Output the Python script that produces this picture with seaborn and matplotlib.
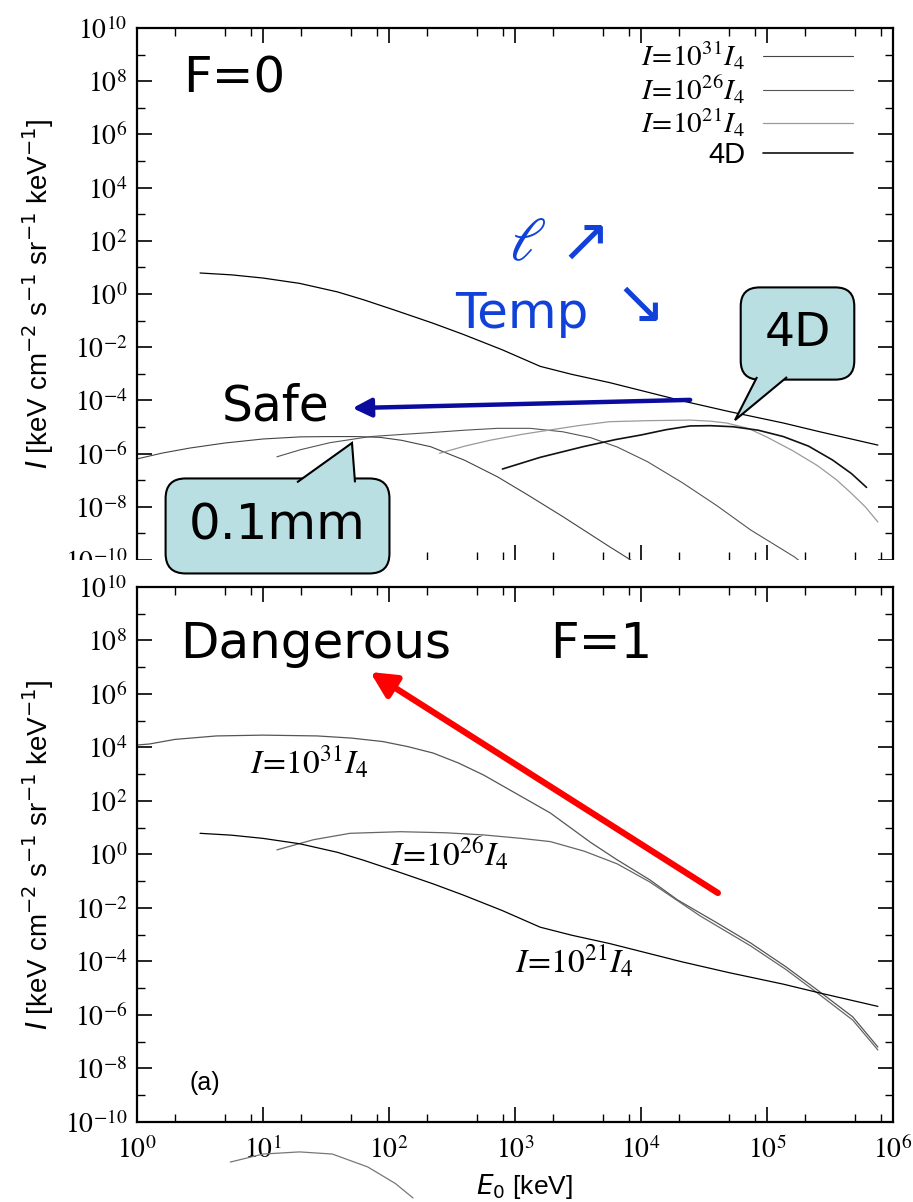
import numpy as np
import matplotlib
matplotlib.use("Agg")
import matplotlib.pyplot as plt
import seaborn as sns
from matplotlib.patches import Rectangle, Polygon
from matplotlib.ticker import FixedLocator, FuncFormatter, NullFormatter

# all values as log10(E0 / keV) and log10(I)
# curve that shows up in both panels (I = 10^21 I4 in panel F=1)
e_21 = [0.50, 0.75, 1.00, 1.29, 1.59, 1.80, 2.06, 2.35, 2.59, 2.90, 3.20, 3.45, 3.75, 4.33, 4.70, 5.13, 5.42, 5.88]
i_21 = [0.79, 0.72, 0.60, 0.40, 0.08, -0.22, -0.63, -1.10, -1.52, -2.10, -2.72, -3.02, -3.33, -4.02, -4.42, -4.85, -5.18, -5.68]

# F = 0 panel
f0_e31 = [0.00, 0.20, 0.42, 0.70, 1.00, 1.30, 1.53, 1.75, 1.93, 2.10, 2.33, 2.60, 2.86, 3.10, 3.38, 3.75, 4.07]
f0_i31 = [-6.20, -5.98, -5.79, -5.60, -5.45, -5.37, -5.36, -5.36, -5.39, -5.50, -5.74, -6.25, -6.87, -7.55, -8.37, -9.50, -10.45]
f0_e26 = [1.11, 1.30, 1.53, 1.85, 2.10, 2.33, 2.60, 2.86, 3.12, 3.38, 3.60, 3.81, 4.05, 4.33, 4.60, 4.87, 5.22, 5.30]
f0_i26 = [-6.12, -5.85, -5.59, -5.36, -5.28, -5.21, -5.12, -5.05, -5.05, -5.18, -5.40, -5.75, -6.30, -7.10, -7.95, -8.87, -9.89, -10.20]
f0_e21 = [2.40, 2.60, 2.80, 3.05, 3.28, 3.50, 3.75, 4.07, 4.39, 4.55, 4.68, 4.85, 5.00, 5.20, 5.40, 5.55, 5.66, 5.78, 5.88]
f0_i21 = [-5.99, -5.72, -5.50, -5.28, -5.11, -4.95, -4.80, -4.76, -4.74, -4.78, -4.85, -5.05, -5.38, -5.88, -6.45, -6.98, -7.45, -8.00, -8.57]
f0_e4d = [2.90, 3.20, 3.54, 3.80, 4.00, 4.20, 4.39, 4.55, 4.73, 4.93, 5.13, 5.33, 5.52, 5.67, 5.79]
f0_i4d = [-6.58, -6.14, -5.74, -5.47, -5.30, -5.10, -4.96, -4.95, -4.99, -5.12, -5.36, -5.72, -6.24, -6.75, -7.27]

# F = 1 panel
f1_e31 = [0.00, 0.10, 0.30, 0.63, 1.00, 1.43, 1.70, 1.95, 2.15, 2.35, 2.55, 2.75, 3.00, 3.28, 3.60, 3.81,
          4.07, 4.29, 4.60, 4.87, 5.15, 5.40, 5.68, 5.88]
f1_i31 = [4.09, 4.13, 4.30, 4.43, 4.46, 4.43, 4.35, 4.22, 4.03, 3.79, 3.42, 2.97, 2.30, 1.55, 0.45, -0.20,
          -0.95, -1.70, -2.55, -3.31, -4.20, -5.07, -6.07, -7.20]
f1_e26 = [1.11, 1.40, 1.69, 2.09, 2.45, 2.75, 3.05, 3.28, 3.55, 3.81, 4.07, 4.47, 4.87, 5.15, 5.40, 5.68, 5.88]
f1_i26 = [0.17, 0.55, 0.79, 0.85, 0.81, 0.73, 0.60, 0.48, 0.12, -0.35, -1.03, -2.30, -3.42, -4.30, -5.18, -6.19, -7.31]
# stray piece of a curve drawn below the lower frame
f1_e_low = [0.74, 1.00, 1.29, 1.55, 1.83, 2.05, 2.19]
f1_i_low = [-11.50, -11.20, -11.12, -11.20, -11.68, -12.30, -12.84]

legend_labels = [r"$I\!=\!10^{31}I_4$", r"$I\!=\!10^{26}I_4$", r"$I\!=\!10^{21}I_4$", "4D"]

sns.set_theme(style="ticks")
plt.rcParams["font.family"] = ["DejaVu Sans"]
plt.rcParams["mathtext.fontset"] = "stix"
for key in ["text.color", "axes.labelcolor", "xtick.color", "ytick.color", "axes.edgecolor"]:
    plt.rcParams[key] = "black"

bubble = "#b9dfe2"
blue_txt = "#1141d8"


def p(v):
    return 10.0 ** np.asarray(v)


def style_axis(ax, show_x):
    ax.set_xscale("log")
    ax.set_yscale("log")
    ax.set_xlim(1, 1e6)
    ax.set_ylim(1e-10, 1e10)
    ax.xaxis.set_major_locator(FixedLocator(10.0 ** np.arange(0, 7)))
    ax.xaxis.set_minor_locator(FixedLocator([m * 10.0 ** k for k in range(6) for m in (2, 5, 8)]))
    ax.yaxis.set_major_locator(FixedLocator(10.0 ** np.arange(-10, 11, 2)))
    ax.yaxis.set_minor_locator(FixedLocator(10.0 ** np.arange(-9, 10, 2)))
    fmt = FuncFormatter(lambda v, pos: r"$10^{%d}$" % round(np.log10(v)))
    ax.xaxis.set_major_formatter(fmt)
    ax.yaxis.set_major_formatter(fmt)
    ax.xaxis.set_minor_formatter(NullFormatter())
    ax.yaxis.set_minor_formatter(NullFormatter())
    ax.tick_params(which="both", direction="in", top=True, right=True, labelsize=20, pad=7)
    ax.tick_params(which="major", length=11, width=1.2)
    ax.tick_params(which="minor", length=5.5, width=1.0)
    ax.tick_params(axis="x", labelbottom=show_x, pad=10)
    for s in ax.spines.values():
        s.set_linewidth(1.6)
    ax.set_ylabel(r"$I$ [keV cm$^{-2}$ s$^{-1}$ sr$^{-1}$ keV$^{-1}$]", fontsize=20,
                  family="Liberation Sans", math_fontfamily="dejavusans")
    ax.yaxis.set_label_coords(-0.107, 0.5)


def bubble_tail(ax, base_left, base_right, tip):
    # triangle of a speech bubble, given as (log E, log I) points
    pts = np.array([base_left, tip, base_right])
    ax.add_patch(Polygon(p(pts), closed=False, fc=bubble, ec="black", lw=1.5,
                         zorder=7, clip_on=False))


fig = plt.figure(figsize=(9.13, 12.02), dpi=100)
ax_top = fig.add_axes([0.1501, 0.5341, 0.8280, 0.4426])
ax_bot = fig.add_axes([0.1501, 0.0666, 0.8280, 0.4451])
style_axis(ax_top, False)
style_axis(ax_bot, True)

# ---- F = 0 ----
sns.lineplot(x=p(e_21), y=p(i_21), ax=ax_top, color="black", lw=0.9)
h31, = sns.lineplot(x=p(f0_e31), y=p(f0_i31), ax=ax_top, color="#444444", lw=0.8).lines[-1:]
h26, = sns.lineplot(x=p(f0_e26), y=p(f0_i26), ax=ax_top, color="#555555", lw=0.8).lines[-1:]
h21, = sns.lineplot(x=p(f0_e21), y=p(f0_i21), ax=ax_top, color="#9a9a9a", lw=0.9).lines[-1:]
h4d, = sns.lineplot(x=p(f0_e4d), y=p(f0_i4d), ax=ax_top, color="#111111", lw=1.2).lines[-1:]

leg = ax_top.legend([h31, h26, h21, h4d], legend_labels, loc="upper right",
                    bbox_to_anchor=(0.947, 0.978), frameon=False, markerfirst=False,
                    fontsize=21, handlelength=3.1, handletextpad=0.6, labelspacing=0.05,
                    borderpad=0, borderaxespad=0)
leg.get_texts()[3].set_family("Liberation Sans")

ax_top.text(0.061, 0.878, "F=0", transform=ax_top.transAxes, fontsize=36)
ax_top.text(0.112, 0.263, "Safe", transform=ax_top.transAxes, fontsize=35)
ax_top.text(0.516, 0.594, r"$\ell$", transform=ax_top.transAxes, fontsize=44, color=blue_txt,
            ha="center", va="center")
ax_top.text(0.593, 0.594, "\u2197", transform=ax_top.transAxes, fontsize=44, color=blue_txt,
            ha="center", va="center")
ax_top.text(0.421, 0.436, "Temp", transform=ax_top.transAxes, fontsize=36, color=blue_txt)
ax_top.text(0.665, 0.476, "\u2198", transform=ax_top.transAxes, fontsize=44, color=blue_txt,
            ha="center", va="center")

ax_top.annotate("", xy=(p(1.71), p(-4.29)), xytext=(p(4.39), p(-3.98)),
                arrowprops=dict(arrowstyle="-|>", lw=3.2, color="#0b0b9e", mutation_scale=28,
                                shrinkA=0, shrinkB=0))

# white strip hiding the lower edge of the upper frame
ax_top.add_patch(Rectangle((-0.3, -0.07), 1.6, 0.07, transform=ax_top.transAxes,
                           fc="white", ec="none", zorder=3, clip_on=False))
ax_top.spines["bottom"].set_visible(False)

# speech bubbles
ax_top.text(p(5.242), p(-1.485), "4D", ha="center", va="center", fontsize=34, zorder=6,
            bbox=dict(boxstyle="round,pad=0.5,rounding_size=0.4", fc=bubble, ec="black", lw=1.5))
bubble_tail(ax_top, (4.921, -3.12), (5.159, -3.12), (4.746, -4.74))
ax_top.text(p(1.115), p(-8.72), "0.1mm", ha="center", va="center", fontsize=36, zorder=6,
            clip_on=False,
            bbox=dict(boxstyle="round,pad=0.47,rounding_size=0.4", fc=bubble, ec="black", lw=1.5))
bubble_tail(ax_top, (1.27, -7.08), (1.73, -7.08), (1.706, -5.6))

# ---- F = 1 ----
sns.lineplot(x=p(f1_e31), y=p(f1_i31), ax=ax_bot, color="#555555", lw=0.9)
sns.lineplot(x=p(f1_e26), y=p(f1_i26), ax=ax_bot, color="#666666", lw=0.9)
sns.lineplot(x=p(e_21), y=p(i_21), ax=ax_bot, color="black", lw=0.9)
sns.lineplot(x=p(f1_e_low), y=p(f1_i_low), ax=ax_bot, color="#777777", lw=0.9, clip_on=False)

ax_bot.text(0.149, 0.652, r"$I\!=\!10^{31}I_4$", transform=ax_bot.transAxes, fontsize=24)
ax_bot.text(0.335, 0.477, r"$I\!=\!10^{26}I_4$", transform=ax_bot.transAxes, fontsize=24)
ax_bot.text(0.500, 0.280, r"$I\!=\!10^{21}I_4$", transform=ax_bot.transAxes, fontsize=24)

ax_bot.text(0.057, 0.867, "Dangerous", transform=ax_bot.transAxes, fontsize=36)
ax_bot.text(0.546, 0.867, "F=1", transform=ax_bot.transAxes, fontsize=36)
ax_bot.text(0.070, 0.06, "(a)", transform=ax_bot.transAxes, fontsize=18, family="Liberation Sans")

ax_bot.annotate("", xy=(p(1.85), p(6.82)), xytext=(p(4.61), p(-1.44)),
                arrowprops=dict(arrowstyle="-|>", lw=4.5, color="#ff0000", mutation_scale=38,
                                shrinkA=0, shrinkB=0))

ax_bot.set_xlabel(r"$E_0$ [keV]", fontsize=19, family="Liberation Sans", math_fontfamily="dejavusans")
ax_bot.xaxis.set_label_coords(0.513, -0.093)

fig.savefig("out.png", dpi=100)
